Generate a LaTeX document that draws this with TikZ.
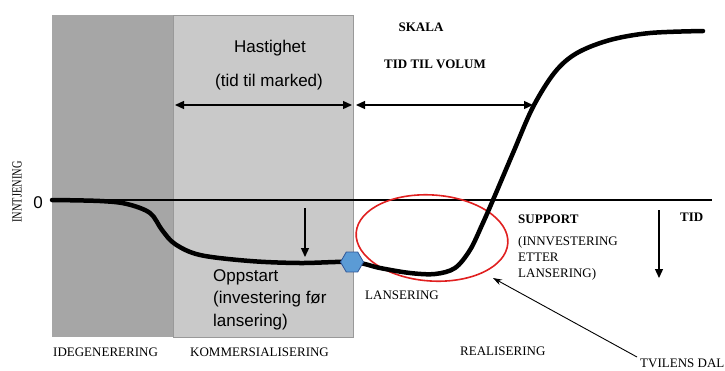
\documentclass[tikz,border=0pt]{standalone}
\usepackage{fontspec}
\setmainfont{Liberation Serif}
\setsansfont{Liberation Sans}
\usetikzlibrary{arrows.meta,shapes.geometric}

\definecolor{phaseDark}{HTML}{A6A6A6}
\definecolor{phaseLight}{HTML}{C9C9C9}
\definecolor{phaseEdge}{HTML}{999999}
\definecolor{launchBlue}{HTML}{5B9BD5}
\definecolor{launchEdge}{HTML}{2F5597}
\definecolor{doubtRed}{HTML}{E02020}

\tikzset{
  sanslabel/.style={font=\sffamily\fontsize{17}{22.5}\selectfont, inner sep=0pt},
  seriflabel/.style={font=\fontsize{13}{16}\selectfont, inner sep=0pt},
  boldlabel/.style={font=\bfseries\fontsize{13}{16}\selectfont, inner sep=0pt},
  spanarrow/.style={line width=1.3pt, {Triangle[length=9pt,width=8pt]}-{Triangle[length=9pt,width=8pt]}},
  droparrow/.style={line width=1.3pt, -{Triangle[length=9pt,width=8pt]}},
  pointer/.style={line width=0.9pt, -{Stealth[length=9pt,width=6pt]}},
  revenue/.style={line width=4.5pt, line cap=round, line join=round},
}

\begin{document}
\begin{tikzpicture}[x=1pt,y=-1pt]
\useasboundingbox (0,0) rectangle (725,370);

% phase backgrounds
\fill[phaseDark] (52,15) rectangle (173,337);
\filldraw[fill=phaseLight, draw=phaseEdge, line width=0.8pt] (173,15) rectangle (353,337);

% zero line
\coordinate (axisL) at (52,200);
\coordinate (axisR) at (712,200);
\draw[line width=1.6pt] (axisL) -- (axisR);
\node[sanslabel] (zero) at (38,203) {0};

% vertical axis label
\node[font=\fontsize{14}{16}\selectfont, inner sep=0pt, rotate=90] (yl) at (17,192)
  {\scalebox{0.74}[1]{INNTJENING}};

% red ellipse around the dip
\draw[doubtRed, line width=1.6pt] (432,238) ellipse [x radius=76, y radius=43, rotate=-4];

% revenue curve
\draw[revenue] plot[smooth, tension=0.55] coordinates {
  (52,200) (100,201) (127,204) (150,213) (162,230) (175,244) (200,255)
  (250,261) (300,263) (352,262) (380,268) (410,273) (435,274) (455,268)
  (470,250) (482,225) (493,200) (513,153) (533,107) (555,72) (577,53)
  (610,40) (650,33) (703,31)};

% launch marker
\node[regular polygon, regular polygon sides=6, minimum size=23pt, inner sep=0pt,
      fill=launchBlue, draw=launchEdge, line width=0.8pt] (launch) at (352,262) {};

% span arrows
\coordinate (spanA) at (175,105);
\coordinate (spanB) at (352,105);
\coordinate (spanC) at (356,105);
\coordinate (spanD) at (533,105);
\draw[spanarrow] (spanA) -- (spanB);
\draw[spanarrow] (spanC) -- (spanD);

% downward arrows
\coordinate (dropA1) at (305,208);
\coordinate (dropA2) at (305,257);
\coordinate (dropB1) at (659,210);
\coordinate (dropB2) at (659,278);
\draw[droparrow] (dropA1) -- (dropA2);
\draw[droparrow] (dropB1) -- (dropB2);

% labels in the commercialisation phase
\node[sanslabel] (speed) at (270,48) {Hastighet};
\node[sanslabel] (ttm) at (269,82) {(tid til marked)};
\node[sanslabel, anchor=north west, align=left] (startup) at (213,269)
  {Oppstart\\(investering før\\lansering)};

% labels in the realisation phase
\node[boldlabel] (scale) at (421,27) {SKALA};
\node[boldlabel] (ttv) at (435,64) {TID TIL VOLUM};
\node[boldlabel, anchor=west] (support) at (518,219) {SUPPORT};
\node[seriflabel, anchor=north west, align=left] (postinv) at (518,236)
  {(INNVESTERING\\ETTER\\LANSERING)};
\node[boldlabel, anchor=west] (time) at (680,217) {TID};
\node[seriflabel, anchor=west] (launchlbl) at (365,295) {LANSERING};

% phase names
\node[seriflabel, anchor=west] (idea) at (53,352) {IDEGENERERING};
\node[seriflabel, anchor=west] (comm) at (190,352) {KOMMERSIALISERING};
\node[seriflabel, anchor=west] (real) at (460,351) {REALISERING};
\node[seriflabel, anchor=west] (valley) at (640,363) {TVILENS DAL};

% pointer to the valley of doubt
\coordinate (valleyTip) at (493,278);
\coordinate (valleyTail) at (637,357);
\draw[pointer] (valleyTail) -- (valleyTip);
\end{tikzpicture}
\end{document}
